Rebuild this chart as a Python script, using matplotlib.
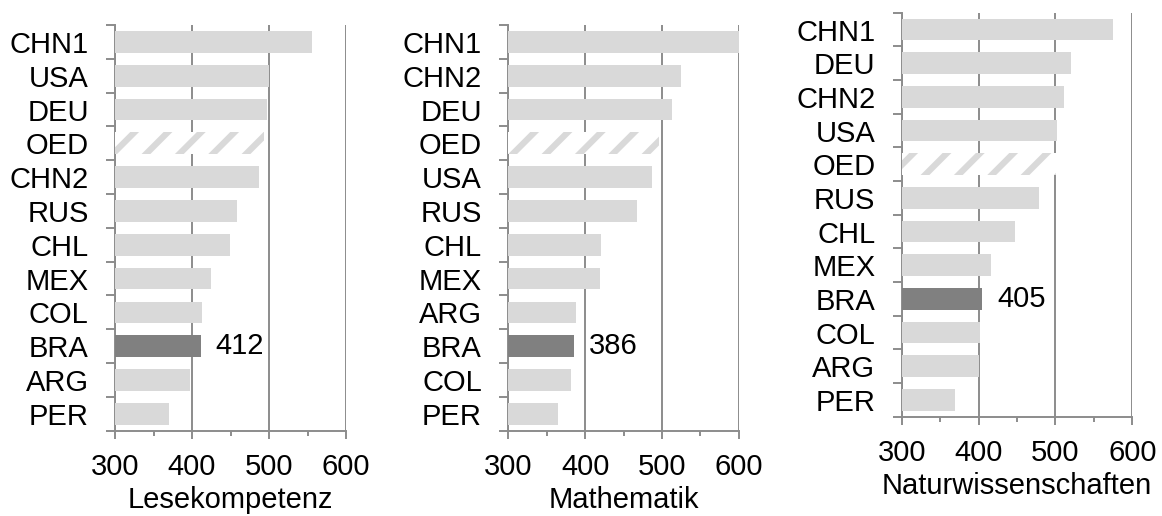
import matplotlib
matplotlib.use("Agg")
import matplotlib.pyplot as plt
from matplotlib.ticker import MultipleLocator, FixedLocator

plt.rcParams['font.family'] = ['Liberation Sans', 'DejaVu Sans']
plt.rcParams['hatch.linewidth'] = 4.5

# PISA-Ergebnisse je Bereich, absteigend sortiert
lese_laender = ['CHN1', 'USA', 'DEU', 'OED', 'CHN2', 'RUS', 'CHL', 'MEX', 'COL', 'BRA', 'ARG', 'PER']
lese_werte = [556, 500, 497, 493, 487, 459, 449, 425, 413, 412, 398, 370]

mathe_laender = ['CHN1', 'CHN2', 'DEU', 'OED', 'USA', 'RUS', 'CHL', 'MEX', 'ARG', 'BRA', 'COL', 'PER']
mathe_werte = [600, 525, 513, 496, 487, 468, 421, 419, 388, 386, 381, 365]

natur_laender = ['CHN1', 'DEU', 'CHN2', 'USA', 'OED', 'RUS', 'CHL', 'MEX', 'BRA', 'COL', 'ARG', 'PER']
natur_werte = [575, 520, 511, 502, 501, 478, 447, 416, 405, 402, 401, 369]

titel = ['Lesekompetenz', 'Mathematik', 'Naturwissenschaften']

HELL = '#d9d9d9'
DUNKEL = '#808080'
LINIE = '#8c8c8c'
FS = 21

fig = plt.figure(figsize=(11.62, 5.16), dpi=100)

# [left, bottom, width, height]
boxen = [
    [0.0990, 0.1653, 0.1988, 0.7863],
    [0.4374, 0.1653, 0.1985, 0.7863],
    [0.7760, 0.1924, 0.1985, 0.7830],
]

daten = [(lese_laender, lese_werte), (mathe_laender, mathe_werte), (natur_laender, natur_werte)]

for box, (laender, werte), name in zip(boxen, daten, titel):
    ax = fig.add_axes(box)
    y = list(range(len(laender)))
    base = 300
    for yi, land, w in zip(y, laender, werte):
        if land == 'OED':
            ax.barh(yi, w - base, left=base, height=0.64, color='white',
                    edgecolor=HELL, hatch='/', linewidth=0, zorder=3)
        elif land == 'BRA':
            ax.barh(yi, w - base, left=base, height=0.64, color=DUNKEL,
                    linewidth=0, zorder=3)
            ax.annotate(str(w), (w, yi), xytext=(10.5, 0), textcoords='offset points',
                        va='center', ha='left', fontsize=FS)
        else:
            ax.barh(yi, w - base, left=base, height=0.64, color=HELL,
                    linewidth=0, zorder=3)

    ax.set_xlim(300, 600)
    ax.set_ylim(len(laender) - 0.5, -0.5)
    ax.set_yticks(y)
    ax.set_yticklabels(laender)
    ax.yaxis.set_minor_locator(FixedLocator([i - 0.5 for i in range(len(laender) + 1)]))
    ax.xaxis.set_major_locator(MultipleLocator(100))
    ax.xaxis.set_minor_locator(MultipleLocator(50))

    ax.grid(axis='x', which='major', color=LINIE, linewidth=1.4, zorder=0)
    ax.set_axisbelow(True)

    for s in ['top', 'right']:
        ax.spines[s].set_visible(False)
    for s in ['left', 'bottom']:
        ax.spines[s].set_color(LINIE)
        ax.spines[s].set_linewidth(1.4)

    ax.tick_params(axis='y', which='major', length=0, pad=19, labelsize=FS)
    ax.tick_params(axis='y', which='minor', length=6.5, width=1.4, color=LINIE)
    ax.tick_params(axis='x', which='major', length=5.8, width=1.4, color=LINIE,
                   pad=10, labelsize=FS)
    ax.tick_params(axis='x', which='minor', length=3.5, width=1.4, color=LINIE)
    ax.set_xlabel(name, fontsize=FS, labelpad=4)

fig.savefig('out.png', dpi=100)
